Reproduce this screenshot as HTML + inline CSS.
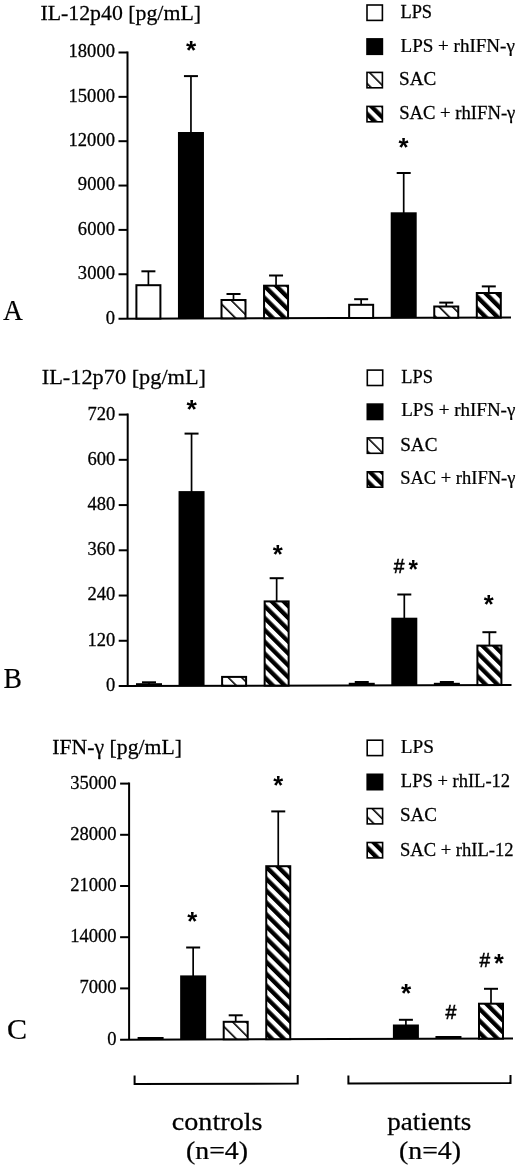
<!DOCTYPE html>
<html><head><meta charset="utf-8"><title>Figure</title>
<style>html,body{margin:0;padding:0;background:#fff;overflow:hidden;}svg{display:block;}</style></head>
<body><svg width="520" height="1167" viewBox="0 0 520 1167">
<defs>
<pattern id="hlA" patternUnits="userSpaceOnUse" width="9.496" height="9.496" patternTransform="rotate(-45) translate(7.261 0)"><rect width="9.496" height="9.496" fill="#fff"/><rect width="1.6" height="9.496" fill="#000"/></pattern>
<pattern id="hdA" patternUnits="userSpaceOnUse" width="8.400" height="8.400" patternTransform="rotate(-45) translate(7.834 0)"><rect width="8.400" height="8.400" fill="#fff"/><rect width="4.3" height="8.400" fill="#000"/></pattern>
<pattern id="hlB" patternUnits="userSpaceOnUse" width="9.496" height="9.496" patternTransform="rotate(-45) translate(4.362 0)"><rect width="9.496" height="9.496" fill="#fff"/><rect width="1.6" height="9.496" fill="#000"/></pattern>
<pattern id="hdB" patternUnits="userSpaceOnUse" width="8.400" height="8.400" patternTransform="rotate(-45) translate(8.400 0)"><rect width="8.400" height="8.400" fill="#fff"/><rect width="4.3" height="8.400" fill="#000"/></pattern>
<pattern id="hlC" patternUnits="userSpaceOnUse" width="9.496" height="9.496" patternTransform="rotate(-45) translate(1.321 0)"><rect width="9.496" height="9.496" fill="#fff"/><rect width="1.6" height="9.496" fill="#000"/></pattern>
<pattern id="hdC" patternUnits="userSpaceOnUse" width="8.400" height="8.400" patternTransform="rotate(-45) translate(1.555 0)"><rect width="8.400" height="8.400" fill="#fff"/><rect width="4.3" height="8.400" fill="#000"/></pattern>
<pattern id="hlLA" patternUnits="userSpaceOnUse" width="9.496" height="9.496" patternTransform="rotate(-45) translate(0.261 0)"><rect width="9.496" height="9.496" fill="#fff"/><rect width="1.6" height="9.496" fill="#000"/></pattern>
<pattern id="hdLA" patternUnits="userSpaceOnUse" width="8.400" height="8.400" patternTransform="rotate(-45) translate(0.452 0)"><rect width="8.400" height="8.400" fill="#fff"/><rect width="4.3" height="8.400" fill="#000"/></pattern>
<pattern id="hlLB" patternUnits="userSpaceOnUse" width="9.496" height="9.496" patternTransform="rotate(-45) translate(6.483 0)"><rect width="9.496" height="9.496" fill="#fff"/><rect width="1.6" height="9.496" fill="#000"/></pattern>
<pattern id="hdLB" patternUnits="userSpaceOnUse" width="8.400" height="8.400" patternTransform="rotate(-45) translate(1.315 0)"><rect width="8.400" height="8.400" fill="#fff"/><rect width="4.3" height="8.400" fill="#000"/></pattern>
<pattern id="hlLC" patternUnits="userSpaceOnUse" width="9.496" height="9.496" patternTransform="rotate(-45) translate(3.973 0)"><rect width="9.496" height="9.496" fill="#fff"/><rect width="1.6" height="9.496" fill="#000"/></pattern>
<pattern id="hdLC" patternUnits="userSpaceOnUse" width="8.400" height="8.400" patternTransform="rotate(-45) translate(2.375 0)"><rect width="8.400" height="8.400" fill="#fff"/><rect width="4.3" height="8.400" fill="#000"/></pattern>
</defs>
<rect width="520" height="1167" fill="#fff"/>
<line x1="127.50" y1="51.50" x2="127.50" y2="318.60" stroke="#000" stroke-width="2"/>
<line x1="118.50" y1="318.63" x2="511.00" y2="317.60" stroke="#000" stroke-width="2"/>
<line x1="118.50" y1="274.25" x2="127.50" y2="274.25" stroke="#000" stroke-width="2"/>
<line x1="118.50" y1="229.90" x2="127.50" y2="229.90" stroke="#000" stroke-width="2"/>
<line x1="118.50" y1="185.55" x2="127.50" y2="185.55" stroke="#000" stroke-width="2"/>
<line x1="118.50" y1="141.20" x2="127.50" y2="141.20" stroke="#000" stroke-width="2"/>
<line x1="118.50" y1="96.85" x2="127.50" y2="96.85" stroke="#000" stroke-width="2"/>
<line x1="118.50" y1="52.50" x2="127.50" y2="52.50" stroke="#000" stroke-width="2"/>
<line x1="148.40" y1="271.30" x2="148.40" y2="285.20" stroke="#000" stroke-width="1.7"/>
<line x1="141.40" y1="271.30" x2="155.40" y2="271.30" stroke="#000" stroke-width="2"/>
<rect x="136.40" y="285.20" width="24.00" height="33.35" fill="#fff" stroke="#000" stroke-width="2.0"/>
<line x1="190.95" y1="76.10" x2="190.95" y2="133.00" stroke="#000" stroke-width="1.7"/>
<line x1="183.95" y1="76.10" x2="197.95" y2="76.10" stroke="#000" stroke-width="2"/>
<rect x="177.95" y="132.00" width="26.00" height="186.44" fill="#000"/>
<line x1="233.50" y1="294.00" x2="233.50" y2="300.00" stroke="#000" stroke-width="1.7"/>
<line x1="226.50" y1="294.00" x2="240.50" y2="294.00" stroke="#000" stroke-width="2"/>
<rect x="221.50" y="300.00" width="24.00" height="18.33" fill="url(#hlA)" stroke="#000" stroke-width="2.0"/>
<line x1="276.05" y1="275.50" x2="276.05" y2="285.70" stroke="#000" stroke-width="1.7"/>
<line x1="269.05" y1="275.50" x2="283.05" y2="275.50" stroke="#000" stroke-width="2"/>
<rect x="264.05" y="285.70" width="24.00" height="32.52" fill="url(#hdA)" stroke="#000" stroke-width="2.0"/>
<line x1="361.15" y1="299.20" x2="361.15" y2="304.80" stroke="#000" stroke-width="1.7"/>
<line x1="354.15" y1="299.20" x2="368.15" y2="299.20" stroke="#000" stroke-width="2"/>
<rect x="349.15" y="304.80" width="24.00" height="13.19" fill="#fff" stroke="#000" stroke-width="2.0"/>
<line x1="403.70" y1="173.00" x2="403.70" y2="213.30" stroke="#000" stroke-width="1.7"/>
<line x1="396.70" y1="173.00" x2="410.70" y2="173.00" stroke="#000" stroke-width="2"/>
<rect x="390.70" y="212.30" width="26.00" height="105.58" fill="#000"/>
<line x1="446.25" y1="302.60" x2="446.25" y2="306.50" stroke="#000" stroke-width="1.7"/>
<line x1="439.25" y1="302.60" x2="453.25" y2="302.60" stroke="#000" stroke-width="2"/>
<rect x="434.25" y="306.50" width="24.00" height="11.27" fill="url(#hlA)" stroke="#000" stroke-width="2.0"/>
<line x1="488.80" y1="286.40" x2="488.80" y2="293.00" stroke="#000" stroke-width="1.7"/>
<line x1="481.80" y1="286.40" x2="495.80" y2="286.40" stroke="#000" stroke-width="2"/>
<rect x="476.80" y="293.00" width="24.00" height="24.66" fill="url(#hdA)" stroke="#000" stroke-width="2.0"/>
<rect x="367.00" y="5.00" width="15.4" height="15.4" fill="#fff" stroke="#000" stroke-width="1.6"/>
<rect x="367.00" y="38.90" width="15.4" height="15.4" fill="#000" stroke="#000" stroke-width="1.6"/>
<rect x="367.00" y="72.40" width="15.4" height="15.4" fill="url(#hlLA)" stroke="#000" stroke-width="1.6"/>
<rect x="367.00" y="106.40" width="15.4" height="15.4" fill="url(#hdLA)" stroke="#000" stroke-width="1.6"/>
<line x1="127.70" y1="413.60" x2="127.70" y2="686.00" stroke="#000" stroke-width="2"/>
<line x1="118.70" y1="686.03" x2="511.50" y2="685.00" stroke="#000" stroke-width="2"/>
<line x1="118.70" y1="640.77" x2="127.70" y2="640.77" stroke="#000" stroke-width="2"/>
<line x1="118.70" y1="595.53" x2="127.70" y2="595.53" stroke="#000" stroke-width="2"/>
<line x1="118.70" y1="550.30" x2="127.70" y2="550.30" stroke="#000" stroke-width="2"/>
<line x1="118.70" y1="505.07" x2="127.70" y2="505.07" stroke="#000" stroke-width="2"/>
<line x1="118.70" y1="459.83" x2="127.70" y2="459.83" stroke="#000" stroke-width="2"/>
<line x1="118.70" y1="414.60" x2="127.70" y2="414.60" stroke="#000" stroke-width="2"/>
<line x1="149.00" y1="682.30" x2="149.00" y2="684.20" stroke="#000" stroke-width="1.7"/>
<line x1="142.00" y1="682.30" x2="156.00" y2="682.30" stroke="#000" stroke-width="2"/>
<rect x="136.00" y="683.20" width="26.00" height="2.75" fill="#000"/>
<line x1="191.55" y1="433.60" x2="191.55" y2="492.10" stroke="#000" stroke-width="1.7"/>
<line x1="184.55" y1="433.60" x2="198.55" y2="433.60" stroke="#000" stroke-width="2"/>
<rect x="178.55" y="491.10" width="26.00" height="194.74" fill="#000"/>
<rect x="222.10" y="676.90" width="24.00" height="8.83" fill="url(#hlB)" stroke="#000" stroke-width="2.0"/>
<line x1="276.65" y1="578.20" x2="276.65" y2="601.40" stroke="#000" stroke-width="1.7"/>
<line x1="269.65" y1="578.20" x2="283.65" y2="578.20" stroke="#000" stroke-width="2"/>
<rect x="264.65" y="601.40" width="24.00" height="84.21" fill="url(#hdB)" stroke="#000" stroke-width="2.0"/>
<line x1="361.75" y1="682.00" x2="361.75" y2="683.80" stroke="#000" stroke-width="1.7"/>
<line x1="354.75" y1="682.00" x2="368.75" y2="682.00" stroke="#000" stroke-width="2"/>
<rect x="348.75" y="682.80" width="26.00" height="2.59" fill="#000"/>
<line x1="404.30" y1="594.50" x2="404.30" y2="618.70" stroke="#000" stroke-width="1.7"/>
<line x1="397.30" y1="594.50" x2="411.30" y2="594.50" stroke="#000" stroke-width="2"/>
<rect x="391.30" y="617.70" width="26.00" height="67.58" fill="#000"/>
<line x1="446.85" y1="682.00" x2="446.85" y2="683.80" stroke="#000" stroke-width="1.7"/>
<line x1="439.85" y1="682.00" x2="453.85" y2="682.00" stroke="#000" stroke-width="2"/>
<rect x="433.85" y="682.80" width="26.00" height="2.37" fill="#000"/>
<line x1="489.40" y1="632.20" x2="489.40" y2="645.60" stroke="#000" stroke-width="1.7"/>
<line x1="482.40" y1="632.20" x2="496.40" y2="632.20" stroke="#000" stroke-width="2"/>
<rect x="477.40" y="645.60" width="24.00" height="39.45" fill="url(#hdB)" stroke="#000" stroke-width="2.0"/>
<rect x="367.30" y="370.10" width="15.4" height="15.4" fill="#fff" stroke="#000" stroke-width="1.6"/>
<rect x="367.30" y="404.10" width="15.4" height="15.4" fill="#000" stroke="#000" stroke-width="1.6"/>
<rect x="367.30" y="437.90" width="15.4" height="15.4" fill="url(#hlLB)" stroke="#000" stroke-width="1.6"/>
<rect x="367.30" y="471.80" width="15.4" height="15.4" fill="url(#hdLB)" stroke="#000" stroke-width="1.6"/>
<line x1="129.10" y1="782.60" x2="129.10" y2="1039.60" stroke="#000" stroke-width="2"/>
<line x1="120.10" y1="1039.63" x2="513.00" y2="1038.59" stroke="#000" stroke-width="2"/>
<line x1="120.10" y1="988.40" x2="129.10" y2="988.40" stroke="#000" stroke-width="2"/>
<line x1="120.10" y1="937.20" x2="129.10" y2="937.20" stroke="#000" stroke-width="2"/>
<line x1="120.10" y1="886.00" x2="129.10" y2="886.00" stroke="#000" stroke-width="2"/>
<line x1="120.10" y1="834.80" x2="129.10" y2="834.80" stroke="#000" stroke-width="2"/>
<line x1="120.10" y1="783.60" x2="129.10" y2="783.60" stroke="#000" stroke-width="2"/>
<rect x="137.60" y="1037.00" width="26.00" height="2.55" fill="#000"/>
<line x1="193.15" y1="947.50" x2="193.15" y2="976.40" stroke="#000" stroke-width="1.7"/>
<line x1="186.15" y1="947.50" x2="200.15" y2="947.50" stroke="#000" stroke-width="2"/>
<rect x="180.15" y="975.40" width="26.00" height="64.03" fill="#000"/>
<line x1="235.70" y1="1015.30" x2="235.70" y2="1021.80" stroke="#000" stroke-width="1.7"/>
<line x1="228.70" y1="1015.30" x2="242.70" y2="1015.30" stroke="#000" stroke-width="2"/>
<rect x="223.70" y="1021.80" width="24.00" height="17.52" fill="url(#hlC)" stroke="#000" stroke-width="2.0"/>
<line x1="278.25" y1="811.40" x2="278.25" y2="866.20" stroke="#000" stroke-width="1.7"/>
<line x1="271.25" y1="811.40" x2="285.25" y2="811.40" stroke="#000" stroke-width="2"/>
<rect x="266.25" y="866.20" width="24.00" height="173.01" fill="url(#hdC)" stroke="#000" stroke-width="2.0"/>
<rect x="350.35" y="1038.00" width="26.00" height="0.99" fill="#000"/>
<line x1="405.90" y1="1019.80" x2="405.90" y2="1025.50" stroke="#000" stroke-width="1.7"/>
<line x1="398.90" y1="1019.80" x2="412.90" y2="1019.80" stroke="#000" stroke-width="2"/>
<rect x="392.90" y="1024.50" width="26.00" height="14.37" fill="#000"/>
<rect x="435.45" y="1036.00" width="26.00" height="2.76" fill="#000"/>
<line x1="491.00" y1="988.80" x2="491.00" y2="1003.70" stroke="#000" stroke-width="1.7"/>
<line x1="484.00" y1="988.80" x2="498.00" y2="988.80" stroke="#000" stroke-width="2"/>
<rect x="479.00" y="1003.70" width="24.00" height="34.95" fill="url(#hdC)" stroke="#000" stroke-width="2.0"/>
<rect x="367.20" y="740.20" width="15.4" height="15.4" fill="#fff" stroke="#000" stroke-width="1.6"/>
<rect x="367.20" y="774.30" width="15.4" height="15.4" fill="#000" stroke="#000" stroke-width="1.6"/>
<rect x="367.20" y="808.50" width="15.4" height="15.4" fill="url(#hlLC)" stroke="#000" stroke-width="1.6"/>
<rect x="367.20" y="842.50" width="15.4" height="15.4" fill="url(#hdLC)" stroke="#000" stroke-width="1.6"/>
<polyline points="134.6,1075.4 134.6,1084.00 297.7,1083.57 297.7,1075.0" fill="none" stroke="#000" stroke-width="2"/>
<polyline points="348.4,1075.4 348.4,1083.44 510.5,1083.01 510.5,1075.0" fill="none" stroke="#000" stroke-width="2"/>
<text transform="translate(40.38 20.20) scale(0.9928 1)" font-family='"Liberation Serif", "DejaVu Serif", serif' font-size="22" stroke="#000" stroke-width="0.25">IL-12p40 [pg/mL]</text>
<text transform="translate(105.67 323.50) scale(1.0300 1)" font-family='"Liberation Serif", "DejaVu Serif", serif' font-size="18" stroke="#000" stroke-width="0.25">0</text>
<text transform="translate(77.86 279.15) scale(1.0300 1)" font-family='"Liberation Serif", "DejaVu Serif", serif' font-size="18" stroke="#000" stroke-width="0.25">3000</text>
<text transform="translate(77.86 234.80) scale(1.0300 1)" font-family='"Liberation Serif", "DejaVu Serif", serif' font-size="18" stroke="#000" stroke-width="0.25">6000</text>
<text transform="translate(77.86 190.45) scale(1.0300 1)" font-family='"Liberation Serif", "DejaVu Serif", serif' font-size="18" stroke="#000" stroke-width="0.25">9000</text>
<text transform="translate(68.59 146.10) scale(1.0300 1)" font-family='"Liberation Serif", "DejaVu Serif", serif' font-size="18" stroke="#000" stroke-width="0.25">12000</text>
<text transform="translate(68.59 101.75) scale(1.0300 1)" font-family='"Liberation Serif", "DejaVu Serif", serif' font-size="18" stroke="#000" stroke-width="0.25">15000</text>
<text transform="translate(68.59 57.40) scale(1.0300 1)" font-family='"Liberation Serif", "DejaVu Serif", serif' font-size="18" stroke="#000" stroke-width="0.25">18000</text>
<text transform="translate(400.42 18.10) scale(1.0218 1)" font-family='"Liberation Serif", "DejaVu Serif", serif' font-size="18" stroke="#000" stroke-width="0.25">LPS</text>
<text transform="translate(400.50 51.60) scale(1.0586 1)" font-family='"Liberation Serif", "DejaVu Serif", serif' font-size="18" stroke="#000" stroke-width="0.25">LPS + rhIFN-γ</text>
<text transform="translate(399.10 85.40) scale(1.0636 1)" font-family='"Liberation Serif", "DejaVu Serif", serif' font-size="18" stroke="#000" stroke-width="0.25">SAC</text>
<text transform="translate(399.13 118.90) scale(1.0375 1)" font-family='"Liberation Serif", "DejaVu Serif", serif' font-size="18" stroke="#000" stroke-width="0.25">SAC + rhIFN-γ</text>
<text transform="translate(185.94 59.25) scale(1.0526 1)" font-family='"Liberation Sans", "DejaVu Sans", sans-serif' font-size="25" font-weight="bold">*</text>
<text transform="translate(398.44 156.15) scale(1.0316 1)" font-family='"Liberation Sans", "DejaVu Sans", sans-serif' font-size="25" font-weight="bold">*</text>
<text transform="translate(41.77 383.60) scale(1.0147 1)" font-family='"Liberation Serif", "DejaVu Serif", serif' font-size="22" stroke="#000" stroke-width="0.25">IL-12p70 [pg/mL]</text>
<text transform="translate(105.97 690.90) scale(1.0300 1)" font-family='"Liberation Serif", "DejaVu Serif", serif' font-size="18" stroke="#000" stroke-width="0.25">0</text>
<text transform="translate(87.43 645.67) scale(1.0300 1)" font-family='"Liberation Serif", "DejaVu Serif", serif' font-size="18" stroke="#000" stroke-width="0.25">120</text>
<text transform="translate(87.43 600.43) scale(1.0300 1)" font-family='"Liberation Serif", "DejaVu Serif", serif' font-size="18" stroke="#000" stroke-width="0.25">240</text>
<text transform="translate(87.43 555.20) scale(1.0300 1)" font-family='"Liberation Serif", "DejaVu Serif", serif' font-size="18" stroke="#000" stroke-width="0.25">360</text>
<text transform="translate(87.43 509.97) scale(1.0300 1)" font-family='"Liberation Serif", "DejaVu Serif", serif' font-size="18" stroke="#000" stroke-width="0.25">480</text>
<text transform="translate(87.43 464.73) scale(1.0300 1)" font-family='"Liberation Serif", "DejaVu Serif", serif' font-size="18" stroke="#000" stroke-width="0.25">600</text>
<text transform="translate(87.43 419.50) scale(1.0300 1)" font-family='"Liberation Serif", "DejaVu Serif", serif' font-size="18" stroke="#000" stroke-width="0.25">720</text>
<text transform="translate(401.22 382.70) scale(1.0218 1)" font-family='"Liberation Serif", "DejaVu Serif", serif' font-size="18" stroke="#000" stroke-width="0.25">LPS</text>
<text transform="translate(401.20 416.30) scale(1.0567 1)" font-family='"Liberation Serif", "DejaVu Serif", serif' font-size="18" stroke="#000" stroke-width="0.25">LPS + rhIFN-γ</text>
<text transform="translate(400.20 450.60) scale(1.0636 1)" font-family='"Liberation Serif", "DejaVu Serif", serif' font-size="18" stroke="#000" stroke-width="0.25">SAC</text>
<text transform="translate(400.24 484.40) scale(1.0275 1)" font-family='"Liberation Serif", "DejaVu Serif", serif' font-size="18" stroke="#000" stroke-width="0.25">SAC + rhIFN-γ</text>
<text transform="translate(186.43 418.45) scale(1.0632 1)" font-family='"Liberation Sans", "DejaVu Sans", sans-serif' font-size="25" font-weight="bold">*</text>
<text transform="translate(272.84 562.85) scale(1.0316 1)" font-family='"Liberation Sans", "DejaVu Sans", sans-serif' font-size="25" font-weight="bold">*</text>
<text transform="translate(393.78 573.05) scale(0.9174 1)" font-family='"Liberation Sans", "DejaVu Sans", sans-serif' font-size="21" stroke="#000" stroke-width="0.6">#</text>
<text transform="translate(408.56 578.05) scale(0.9684 1)" font-family='"Liberation Sans", "DejaVu Sans", sans-serif' font-size="25" font-weight="bold">*</text>
<text transform="translate(483.84 613.35) scale(1.0211 1)" font-family='"Liberation Sans", "DejaVu Sans", sans-serif' font-size="25" font-weight="bold">*</text>
<text transform="translate(52.28 753.60) scale(0.9888 1)" font-family='"Liberation Serif", "DejaVu Serif", serif' font-size="22" stroke="#000" stroke-width="0.25">IFN-γ [pg/mL]</text>
<text transform="translate(107.37 1044.50) scale(1.0300 1)" font-family='"Liberation Serif", "DejaVu Serif", serif' font-size="18" stroke="#000" stroke-width="0.25">0</text>
<text transform="translate(79.56 993.30) scale(1.0300 1)" font-family='"Liberation Serif", "DejaVu Serif", serif' font-size="18" stroke="#000" stroke-width="0.25">7000</text>
<text transform="translate(70.29 942.10) scale(1.0300 1)" font-family='"Liberation Serif", "DejaVu Serif", serif' font-size="18" stroke="#000" stroke-width="0.25">14000</text>
<text transform="translate(70.29 890.90) scale(1.0300 1)" font-family='"Liberation Serif", "DejaVu Serif", serif' font-size="18" stroke="#000" stroke-width="0.25">21000</text>
<text transform="translate(70.29 839.70) scale(1.0300 1)" font-family='"Liberation Serif", "DejaVu Serif", serif' font-size="18" stroke="#000" stroke-width="0.25">28000</text>
<text transform="translate(70.29 788.50) scale(1.0300 1)" font-family='"Liberation Serif", "DejaVu Serif", serif' font-size="18" stroke="#000" stroke-width="0.25">35000</text>
<text transform="translate(400.80 752.90) scale(1.0689 1)" font-family='"Liberation Serif", "DejaVu Serif", serif' font-size="18" stroke="#000" stroke-width="0.25">LPS</text>
<text transform="translate(400.81 787.00) scale(1.0305 1)" font-family='"Liberation Serif", "DejaVu Serif", serif' font-size="18" stroke="#000" stroke-width="0.25">LPS + rhIL-12</text>
<text transform="translate(400.01 821.40) scale(1.0576 1)" font-family='"Liberation Serif", "DejaVu Serif", serif' font-size="18" stroke="#000" stroke-width="0.25">SAC</text>
<text transform="translate(400.04 855.50) scale(1.0319 1)" font-family='"Liberation Serif", "DejaVu Serif", serif' font-size="18" stroke="#000" stroke-width="0.25">SAC + rhIL-12</text>
<text transform="translate(187.24 930.05) scale(1.0316 1)" font-family='"Liberation Sans", "DejaVu Sans", sans-serif' font-size="25" font-weight="bold">*</text>
<text transform="translate(273.14 794.15) scale(1.0211 1)" font-family='"Liberation Sans", "DejaVu Sans", sans-serif' font-size="25" font-weight="bold">*</text>
<text transform="translate(401.04 1001.55) scale(1.0526 1)" font-family='"Liberation Sans", "DejaVu Sans", sans-serif' font-size="25" font-weight="bold">*</text>
<text transform="translate(445.48 1019.45) scale(0.9339 1)" font-family='"Liberation Sans", "DejaVu Sans", sans-serif' font-size="21" stroke="#000" stroke-width="0.6">#</text>
<text transform="translate(479.47 966.85) scale(0.9091 1)" font-family='"Liberation Sans", "DejaVu Sans", sans-serif' font-size="21" stroke="#000" stroke-width="0.6">#</text>
<text transform="translate(493.95 972.15) scale(1.0105 1)" font-family='"Liberation Sans", "DejaVu Sans", sans-serif' font-size="25" font-weight="bold">*</text>
<text transform="translate(3.06 320.40) scale(0.9517 1)" font-family='"Liberation Serif", "DejaVu Serif", serif' font-size="29" stroke="#000" stroke-width="0.2">A</text>
<text transform="translate(3.58 687.80) scale(0.9513 1)" font-family='"Liberation Serif", "DejaVu Serif", serif' font-size="29" stroke="#000" stroke-width="0.2">B</text>
<text transform="translate(6.91 1038.80) scale(1.0359 1)" font-family='"Liberation Serif", "DejaVu Serif", serif' font-size="29" stroke="#000" stroke-width="0.2">C</text>
<text transform="translate(171.75 1130.40) scale(1.0841 1)" font-family='"Liberation Serif", "DejaVu Serif", serif' font-size="26" stroke="#000" stroke-width="0.25">controls</text>
<text transform="translate(186.00 1158.80) scale(1.0691 1)" font-family='"Liberation Serif", "DejaVu Serif", serif' font-size="26" stroke="#000" stroke-width="0.25">(n=4)</text>
<text transform="translate(387.31 1130.00) scale(1.0395 1)" font-family='"Liberation Serif", "DejaVu Serif", serif' font-size="26" stroke="#000" stroke-width="0.25">patients</text>
<text transform="translate(399.00 1158.80) scale(1.0691 1)" font-family='"Liberation Serif", "DejaVu Serif", serif' font-size="26" stroke="#000" stroke-width="0.25">(n=4)</text>
</svg></body></html>
